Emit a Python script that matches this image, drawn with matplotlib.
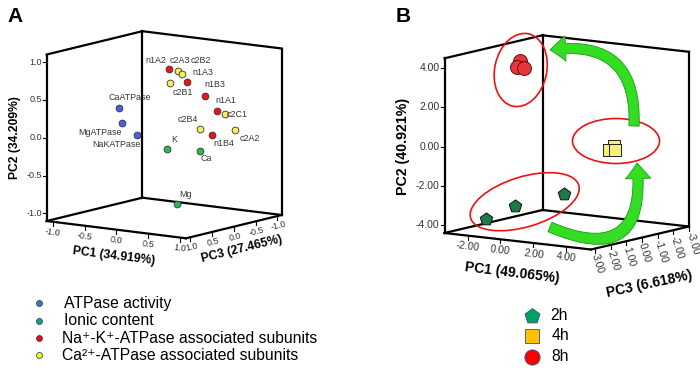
import matplotlib
matplotlib.use('Agg')
import matplotlib.pyplot as plt
from matplotlib.patches import Ellipse, FancyArrowPatch

plt.rcParams['font.family'] = ['Liberation Sans', 'DejaVu Sans']

# ---------------- Panel A data (loadings) ----------------
var_names = ['CaATPase', 'MgATPase', 'NaKATPase', 'K', 'Ca', 'Mg',
             'n1A1', 'n1A2', 'n1A3', 'n1B3', 'n1B4',
             'c2A2', 'c2A3', 'c2B1', 'c2B2', 'c2B4', 'c2C1']
var_group = [0, 0, 0, 1, 1, 1, 2, 2, 2, 2, 2, 3, 3, 3, 3, 3, 3]
pc1_a = [-0.92, -0.60, -0.29, 0.46, 0.70, 0.27,
         0.69, 0.22, 0.43, 0.58, 0.82,
         0.78, 0.42, 0.37, 0.49, 0.77, 0.75]
pc2_a = [0.22, 0.11, -0.01, -0.05, -0.11, -0.87,
         0.36, 0.92, 0.75, 0.56, 0.10,
         0.07, 0.93, 0.78, 0.90, 0.20, 0.31]
pc3_a = [-0.3, 0.1, 0.2, 0.6, 0.2, 0.1,
         -0.2, 0.2, 0.1, -0.1, 0.1,
         -0.5, 0.3, 0.4, 0.3, 0.3, -0.3]
group_names_a = ['ATPase activity', 'Ionic content',
                 'Na\u207a-K\u207a-ATPase associated subunits',
                 'Ca\u00b2\u207a-ATPase associated subunits']
ticks_a = [-1.0, -0.5, 0.0, 0.5, 1.0]
axis_titles_a = ['PC1 (34.919%)', 'PC2 (34.209%)', 'PC3 (27.465%)']

# ---------------- Panel B data (scores) ----------------
time_names = ['2h', '4h', '8h']
pc1_2h = [-2.04, -0.81, 1.21]
pc2_2h = [-3.78, -3.12, -2.47]
pc3_2h = [2.0, 1.5, 0.5]
pc1_4h = [2.87, 2.74, 2.92]
pc2_4h = [-0.19, -0.37, -0.39]
pc3_4h = [-1.0, -0.8, -1.0]
pc1_8h = [-0.98, -0.945, -0.88]
pc2_8h = [4.15, 3.88, 3.79]
pc3_8h = [1.0, 1.2, 0.8]
ticks_b_pc1 = [-2.0, 0.0, 2.0, 4.0]
ticks_b_pc2 = [-4.0, -2.0, 0.0, 2.0, 4.0]
ticks_b_pc3 = [3.0, 2.0, 1.0, 0.0, -1.0, -2.0, -3.0]
axis_titles_b = ['PC1 (49.065%)', 'PC2 (40.921%)', 'PC3 (6.618%)']

# ---------------- layout / style ----------------
BOX_A = dict(L=(46.7, 221.0), F=(186.0, 238.3), R=(281.7, 215.0), H=166.5,
             r1=(-1.1, 1.1), r2=(-1.1, 1.1), r3=(-1.1, 1.1))
BOX_B = dict(L=(444.5, 233.0), F=(591.0, 249.5), R=(689.0, 226.5), H=174.7,
             r1=(-3.4, 5.5), r2=(-4.4, 4.5), r3=(-3.0, 3.25))

label_off_a = [(10.3, -10), (-22, 9.3), (-20.6, 9.3), (6.7, -9.3), (6, 8.3), (9, -9.7),
               (9.3, -10.3), (-13.5, -8.3), (16, -10), (9.7, -11), (12, 9),
               (14, 8.4), (1.8, -10), (12.6, 9.3), (18.9, -13), (-12.4, -9.4), (12.8, 0.3)]
colors_a = ['#4b5ee0', '#2fb84c', '#e3191c', '#f3ef62']
legend_colors_a = ['#4472c4', '#16a37a', '#ff0000', '#ffff00']


def proj(box, p1, p2, p3):
    L, F, R, H = box['L'], box['F'], box['R'], box['H']
    r1, r2, r3 = box['r1'], box['r2'], box['r3']
    t1 = (p1 - r1[0]) / (r1[1] - r1[0])
    t2 = (p2 - r2[0]) / (r2[1] - r2[0])
    t3 = (r3[1] - p3) / (r3[1] - r3[0])
    x = L[0] + t1 * (F[0] - L[0]) + t3 * (R[0] - F[0])
    y = L[1] + t1 * (F[1] - L[1]) + t3 * (R[1] - F[1]) - t2 * H
    return x, y


fig = plt.figure(figsize=(7.0, 3.73), dpi=100)
ax = fig.add_axes([0, 0, 1, 1])
ax.set_xlim(0, 700)
ax.set_ylim(373, 0)
ax.axis('off')


def draw_box(box, lw=1.6):
    L, F, R, H = box['L'], box['F'], box['R'], box['H']
    B = (L[0] + R[0] - F[0], L[1] + R[1] - F[1])
    segs = [(L, B), (B, R), (L, F), (F, R)]
    for P in (L, B, R):
        segs.append((P, (P[0], P[1] - H)))
    segs.append(((L[0], L[1] - H), (B[0], B[1] - H)))
    segs.append(((B[0], B[1] - H), (R[0], R[1] - H)))
    for a, b in segs:
        ax.plot([a[0], b[0]], [a[1], b[1]], color='black', lw=lw,
                solid_capstyle='projecting', zorder=2)


def draw_axes(box, t1, t2, t3, fmt, fs, rot1, rot3, pc3_vertical=False):
    r1, r2, r3 = box['r1'], box['r2'], box['r3']
    tc = '#333333'
    for v in t2:
        x, y = proj(box, r1[0], v, r3[1])
        ax.plot([x - 4, x], [y, y], color='black', lw=0.8, zorder=2)
        ax.text(x - 5, y, fmt % v, ha='right', va='center', fontsize=fs, color=tc)
    for v in t1:
        x, y = proj(box, v, r2[0], r3[1])
        ax.plot([x, x], [y, y + 4], color='black', lw=0.8, zorder=2)
        ax.text(x, y + 11, fmt % v, ha='center', va='center', fontsize=fs,
                color=tc, rotation=rot1)
    for v in t3:
        x, y = proj(box, r1[1], r2[0], v)
        ax.plot([x, x], [y, y + 4], color='black', lw=0.8, zorder=2)
        if pc3_vertical:
            ax.text(x, y + 6, fmt % v, ha='left', va='center', fontsize=fs,
                    color=tc, rotation=-73, rotation_mode='anchor')
        else:
            ax.text(x + 1, y + 10, fmt % v, ha='center', va='center', fontsize=fs,
                    color=tc, rotation=rot3)


# ---------------- Panel A ----------------
draw_box(BOX_A)
draw_axes(BOX_A, ticks_a, ticks_a, ticks_a, '%.1f', 6.5, -7, 14)
for i, name in enumerate(var_names):
    x, y = proj(BOX_A, pc1_a[i], pc2_a[i], pc3_a[i])
    ax.scatter([x], [y], s=24, color=colors_a[var_group[i]], edgecolors='#333333',
               linewidths=0.6, zorder=4)
    dx, dy = label_off_a[i]
    ax.text(x + dx, y + dy, name, ha='center', va='center', fontsize=6.4,
            color='#333333', zorder=5)
ax.text(15, 138, axis_titles_a[1], rotation=90, ha='center', va='center',
        fontsize=8.7, fontweight='bold')
ax.text(114, 256, axis_titles_a[0], rotation=-7, ha='center', va='center',
        fontsize=8.7, fontweight='bold')
ax.text(242, 249, axis_titles_a[2], rotation=14, ha='center', va='center',
        fontsize=8.7, fontweight='bold')
ax.text(7, 17, 'A', fontsize=15, fontweight='bold', ha='left', va='center')

leg_y_a = [303.3, 320.7, 338.3, 355.0]
leg_tx_a = [63.5, 63.5, 62, 62]
for i, name in enumerate(group_names_a):
    ax.scatter([39.3], [leg_y_a[i]], s=18, color=legend_colors_a[i],
               edgecolors='#2f3f6f', linewidths=0.6, zorder=4)
    ax.text(leg_tx_a[i], leg_y_a[i], name, ha='left', va='center', fontsize=11.3)

# ---------------- Panel B ----------------
draw_box(BOX_B)
draw_axes(BOX_B, ticks_b_pc1, ticks_b_pc2, ticks_b_pc3, '%.2f', 7.5, -7, 0,
          pc3_vertical=True)

for i in range(3):
    x, y = proj(BOX_B, pc1_2h[i], pc2_2h[i], pc3_2h[i])
    ax.scatter([x], [y], s=90, marker='p', color='#1e7a48', edgecolors='#111111',
               linewidths=0.7, zorder=4)
for i in range(3):
    x, y = proj(BOX_B, pc1_4h[i], pc2_4h[i], pc3_4h[i])
    ax.scatter([x], [y], s=72, marker='s', color='#f2ef7a', edgecolors='#222222',
               linewidths=0.7, zorder=4)
for i in range(3):
    x, y = proj(BOX_B, pc1_8h[i], pc2_8h[i], pc3_8h[i])
    ax.scatter([x], [y], s=100, marker='o', color='#e8353a', edgecolors='#551111',
               linewidths=0.7, zorder=4)

ell_kw = dict(fill=False, edgecolor='#ee1111', lw=1.2, zorder=5)
ax.add_patch(Ellipse((520.7, 70.0), 52, 74, angle=12, **ell_kw))
ax.add_patch(Ellipse((616.0, 141.0), 87, 45, angle=0, **ell_kw))
ax.add_patch(Ellipse((524.7, 201.7), 113, 50, angle=-17, **ell_kw))

arr_kw = dict(arrowstyle='simple,head_length=1.6,head_width=2.6,tail_width=1.05',
              mutation_scale=7.0, fc='#33dd22', ec='#1a9a1a', lw=0.6,
              shrinkA=0, shrinkB=0, zorder=6)
ax.add_patch(FancyArrowPatch((550, 227), (637, 163),
                             connectionstyle='arc3,rad=0.85', **arr_kw))
ax.add_patch(FancyArrowPatch((634, 126), (550, 50),
                             connectionstyle='arc3,rad=0.6', **arr_kw))

ax.text(403, 146.7, axis_titles_b[1], rotation=90, ha='center', va='center',
        fontsize=10.2, fontweight='bold')
ax.text(512, 273, axis_titles_b[0], rotation=-7, ha='center', va='center',
        fontsize=10, fontweight='bold')
ax.text(649, 284, axis_titles_b[2], rotation=12, ha='center', va='center',
        fontsize=10, fontweight='bold')
ax.text(396, 17, 'B', fontsize=15, fontweight='bold', ha='left', va='center')

leg_y_b = [315.7, 335.7, 356.7]
leg_marker_b = ['p', 's', 'o']
leg_color_b = ['#00a060', '#ffc000', '#ff0000']
leg_size_b = [130, 105, 120]
for i, name in enumerate(time_names):
    ax.scatter([532.3], [leg_y_b[i]], s=leg_size_b[i], marker=leg_marker_b[i],
               color=leg_color_b[i], edgecolors='#2f528f', linewidths=0.6, zorder=4)
    ax.text(550 if i == 0 else 551.7, leg_y_b[i], name, ha='left', va='center',
            fontsize=11.3)

fig.savefig('out.png', dpi=100)
